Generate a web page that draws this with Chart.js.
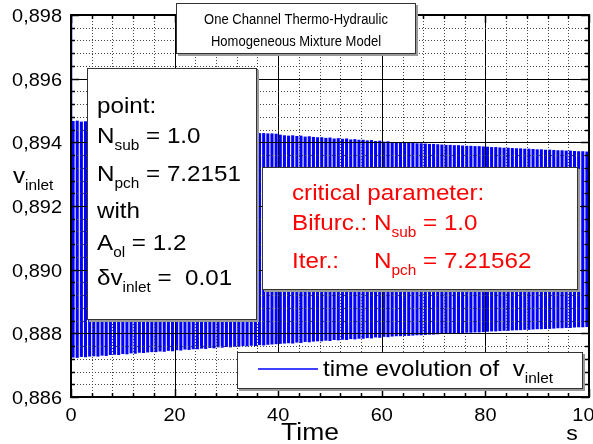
<!DOCTYPE html>
<html><head><meta charset="utf-8">
<script src="https://cdn.jsdelivr.net/npm/chart.js@4"></script>
<style>html,body{margin:0;padding:0;background:#fff}canvas{display:block}</style>
</head><body>
<canvas id="c" width="593" height="444"></canvas>
<script>
// ---- data ----
const cyclePeriod = 0.8; // s, spacing of the oscillation stripes
const upperPeaks = [
0.89466,0.89467,0.89464,0.89465,0.89463,0.89462,0.89463,0.89460,0.89461,0.89458,
0.89457,0.89458,0.89455,0.89456,0.89453,0.89454,0.89451,0.89452,0.89449,0.89450,
0.89448,0.89447,0.89448,0.89445,0.89446,0.89443,0.89444,0.89441,0.89442,0.89440,
0.89440,0.89438,0.89439,0.89436,0.89437,0.89434,0.89435,0.89432,0.89433,0.89430,
0.89431,0.89429,0.89430,0.89428,0.89429,0.89428,0.89428,0.89427,0.89427,0.89426,
0.89423,0.89421,0.89420,0.89421,0.89419,0.89420,0.89417,0.89418,0.89416,0.89415,
0.89415,0.89413,0.89414,0.89411,0.89412,0.89410,0.89411,0.89408,0.89409,0.89407,
0.89407,0.89405,0.89406,0.89403,0.89404,0.89401,0.89402,0.89400,0.89400,0.89399,
0.89398,0.89398,0.89397,0.89396,0.89396,0.89395,0.89394,0.89394,0.89393,0.89392,
0.89391,0.89391,0.89390,0.89390,0.89389,0.89388,0.89388,0.89387,0.89387,0.89386,
0.89385,0.89384,0.89384,0.89383,0.89382,0.89382,0.89381,0.89380,0.89380,0.89379,
0.89379,0.89378,0.89377,0.89377,0.89376,0.89376,0.89375,0.89374,0.89374,0.89373,
0.89373,0.89372,0.89371,0.89371,0.89370];
const lowerTroughs = [
0.88725,0.88724,0.88727,0.88726,0.88728,0.88729,0.88728,0.88731,0.88730,0.88733,
0.88734,0.88733,0.88736,0.88735,0.88738,0.88737,0.88740,0.88739,0.88741,0.88742,
0.88742,0.88744,0.88743,0.88746,0.88745,0.88748,0.88747,0.88750,0.88749,0.88751,
0.88751,0.88753,0.88752,0.88755,0.88754,0.88757,0.88756,0.88758,0.88757,0.88759,
0.88759,0.88761,0.88760,0.88762,0.88761,0.88764,0.88763,0.88765,0.88766,0.88767,
0.88768,0.88769,0.88770,0.88769,0.88772,0.88771,0.88774,0.88773,0.88775,0.88776,
0.88776,0.88778,0.88777,0.88780,0.88779,0.88781,0.88780,0.88783,0.88782,0.88784,
0.88784,0.88786,0.88785,0.88788,0.88787,0.88790,0.88789,0.88791,0.88792,0.88792,
0.88793,0.88793,0.88794,0.88795,0.88795,0.88796,0.88797,0.88797,0.88798,0.88799,
0.88800,0.88800,0.88801,0.88801,0.88802,0.88803,0.88803,0.88804,0.88804,0.88805,
0.88806,0.88807,0.88807,0.88808,0.88809,0.88809,0.88810,0.88811,0.88811,0.88812,
0.88812,0.88813,0.88814,0.88814,0.88815,0.88815,0.88816,0.88817,0.88817,0.88818,
0.88818,0.88819,0.88820,0.88820,0.88821];
const startTimes = [0, 0.1];
const startValues = [0.8990, 0.88725];
const xTickValues = [0, 20, 40, 60, 80, 100];
const xTickLabels = ['0', '20', '40', '60', '80', '100'];
const yTickValues = [0.886, 0.888, 0.890, 0.892, 0.894, 0.896, 0.898];
const yTickLabels = ['0,886', '0,888', '0,890', '0,892', '0,894', '0,896', '0,898'];
const xMinorPerMajor = 5, yMinorPerMajor = 5;
const seriesLabel = 'time evolution of  v';

// ---- chart ----
const FONT = '"Liberation Sans", Arial, sans-serif';
const BLUE = '#0000ff';

function rich(ctx, x, y, parts, color, align, sx) {
  const SX = sx || 1.1;
  ctx.fillStyle = color; ctx.textBaseline = 'alphabetic'; ctx.textAlign = 'left';
  const widths = parts.map(p => { ctx.font = p[1] + 'px ' + FONT; return ctx.measureText(p[0]).width * SX; });
  const total = widths.reduce((a, b) => a + b, 0);
  let cx = align === 'center' ? x - total / 2 : align === 'right' ? x - total : x;
  parts.forEach((p, i) => {
    ctx.font = p[1] + 'px ' + FONT;
    ctx.save(); ctx.translate(cx, y + (p[2] || 0)); ctx.scale(SX, 1);
    ctx.fillText(p[0], 0, 0); ctx.restore();
    cx += widths[i];
  });
  return total;
}
function box(ctx, l, t, r, b) {
  ctx.save();
  ctx.fillStyle = '#9a9a9a';
  ctx.fillRect(l + 2, t + 2, r - l, b - t);
  ctx.fillStyle = '#fff';
  ctx.fillRect(l, t, r - l, b - t);
  ctx.strokeStyle = '#333'; ctx.lineWidth = 1;
  ctx.strokeRect(l + 0.5, t + 0.5, r - l - 1, b - t - 1);
  ctx.restore();
}

const decor = {
  id: 'decor',
  afterDatasetsDraw(chart) {
    const { ctx, chartArea: a, scales: { x, y } } = chart;
    ctx.save();
    const xs = [], ys = [];
    for (let i = 0; i < xTickValues.length - 1; i++) {
      const v0 = xTickValues[i], v1 = xTickValues[i + 1];
      for (let j = 0; j < xMinorPerMajor; j++) xs.push({ p: x.getPixelForValue(v0 + (v1 - v0) * j / xMinorPerMajor), major: j === 0 });
    }
    xs.push({ p: x.getPixelForValue(xTickValues[xTickValues.length - 1]), major: true });
    for (let i = 0; i < yTickValues.length - 1; i++) {
      const v0 = yTickValues[i], v1 = yTickValues[i + 1];
      for (let j = 0; j < yMinorPerMajor; j++) ys.push({ p: y.getPixelForValue(v0 + (v1 - v0) * j / yMinorPerMajor), major: j === 0 });
    }
    ys.push({ p: y.getPixelForValue(yTickValues[yTickValues.length - 1]), major: true });
    // grid
    ctx.lineWidth = 1;
    xs.forEach(g => {
      const px = Math.round(g.p) + 0.5;
      if (px <= a.left + 1 || px >= a.right - 1) return;
      ctx.strokeStyle = g.major ? '#000' : '#444';
      ctx.setLineDash(g.major ? [] : [1, 2]);
      ctx.beginPath(); ctx.moveTo(px, a.top); ctx.lineTo(px, a.bottom); ctx.stroke();
    });
    ys.forEach(g => {
      const py = Math.round(g.p) + 0.5;
      if (py <= a.top + 1 || py >= a.bottom - 1) return;
      ctx.strokeStyle = g.major ? '#000' : '#444';
      ctx.setLineDash(g.major ? [] : [1, 2]);
      ctx.beginPath(); ctx.moveTo(a.left, py); ctx.lineTo(a.right, py); ctx.stroke();
    });
    ctx.setLineDash([]);
    // inward ticks
    ctx.strokeStyle = '#000'; ctx.lineWidth = 1.5;
    xs.forEach(g => {
      const L = g.major ? 8 : 4; const px = Math.round(g.p) + 0.5;
      ctx.beginPath();
      ctx.moveTo(px, a.bottom); ctx.lineTo(px, a.bottom - L);
      ctx.moveTo(px, a.top); ctx.lineTo(px, a.top + L);
      ctx.stroke();
    });
    ys.forEach(g => {
      const L = g.major ? 8 : 4; const py = Math.round(g.p) + 0.5;
      ctx.beginPath();
      ctx.moveTo(a.left, py); ctx.lineTo(a.left + L, py);
      ctx.moveTo(a.right, py); ctx.lineTo(a.right - L, py);
      ctx.stroke();
    });
    // frame
    ctx.lineWidth = 2;
    ctx.strokeRect(a.left, a.top, a.right - a.left, a.bottom - a.top);
    // tick labels
    xTickValues.forEach((v, i) => rich(ctx, x.getPixelForValue(v), a.bottom + 24, [[xTickLabels[i], 19]], '#000', 'center', 1.05));
    yTickValues.forEach((v, i) => rich(ctx, a.left - 9, y.getPixelForValue(v) + 7, [[yTickLabels[i], 19]], '#000', 'right', 1.05));
    // axis titles
    rich(ctx, 310, 440, [['Time', 23]], '#000', 'center', 1.15);
    rich(ctx, 572, 440, [['s', 21]], '#000', 'center');
    rich(ctx, 13, 183, [['v', 22], ['inlet', 14, 7]], '#000', 'left');
    ctx.restore();
  },
  afterDraw(chart) {
    const ctx = chart.ctx;
    ctx.save();
    // title box
    box(ctx, 176, 3, 416, 54);
    rich(ctx, 296, 24, [['One Channel Thermo-Hydraulic', 14]], '#000', 'center', 0.93);
    rich(ctx, 296, 46, [['Homogeneous Mixture Model', 14]], '#000', 'center', 0.93);
    // parameter box
    box(ctx, 87, 68, 257, 320);
    const F = 22, S = 14, D = 7, X1 = 97;
    rich(ctx, X1, 113, [['point:', F]], '#000');
    rich(ctx, X1, 143, [['N', F], ['sub', S, D], [' = 1.0', F]], '#000');
    rich(ctx, X1, 181, [['N', F], ['pch', S, D], [' = 7.2151', F]], '#000');
    rich(ctx, X1, 218, [['with', F]], '#000');
    rich(ctx, X1, 250, [['A', F], ['ol', S, D], [' = 1.2', F]], '#000');
    rich(ctx, X1, 285, [['\u03b4v', F], ['inlet', S, D], [' =  0.01', F]], '#000');
    // critical parameter box
    box(ctx, 262, 167, 578, 290);
    const RED = '#ff0000', X2 = 292, XN = 374;
    rich(ctx, X2, 200, [['critical parameter:', F]], RED);
    rich(ctx, X2, 230, [['Bifurc.:', F]], RED);
    rich(ctx, XN, 230, [['N', F], ['sub', S, D], [' = 1.0', F]], RED);
    rich(ctx, X2, 268, [['Iter.:', F]], RED);
    rich(ctx, XN, 268, [['N', F], ['pch', S, D], [' = 7.21562', F]], RED);
    // legend box
    box(ctx, 237, 352, 583, 389);
    ctx.strokeStyle = BLUE; ctx.lineWidth = 1.5;
    ctx.beginPath(); ctx.moveTo(258, 369); ctx.lineTo(318, 369); ctx.stroke();
    rich(ctx, 323, 376, [[seriesLabel, F], ['inlet', S, D]], '#000');
    ctx.restore();
  }
};

const bars = upperPeaks.map((u, k) => ({ x: k * cyclePeriod + cyclePeriod / 2, y: [lowerTroughs[k], u] }));
const spike = startTimes.map((t, i) => ({ x: t, y: startValues[i] }));

new Chart(document.getElementById('c'), {
  type: 'bar',
  data: {
    datasets: [
      { type: 'bar', label: seriesLabel, data: bars, backgroundColor: BLUE, borderWidth: 0, barThickness: 2.4, grouped: false },
      { type: 'line', label: 'start', data: spike, borderColor: BLUE, borderWidth: 1.5, pointRadius: 0, tension: 0 }
    ]
  },
  options: {
    responsive: false, animation: false, events: [],
    layout: { padding: { left: 71, right: 4, top: 15, bottom: 47 } },
    scales: {
      x: { type: 'linear', min: 0, max: 100, offset: false, display: false },
      y: { type: 'linear', min: 0.886, max: 0.898, display: false }
    },
    plugins: { legend: { display: false }, tooltip: { enabled: false } }
  },
  plugins: [decor]
});
</script>
</body></html>
